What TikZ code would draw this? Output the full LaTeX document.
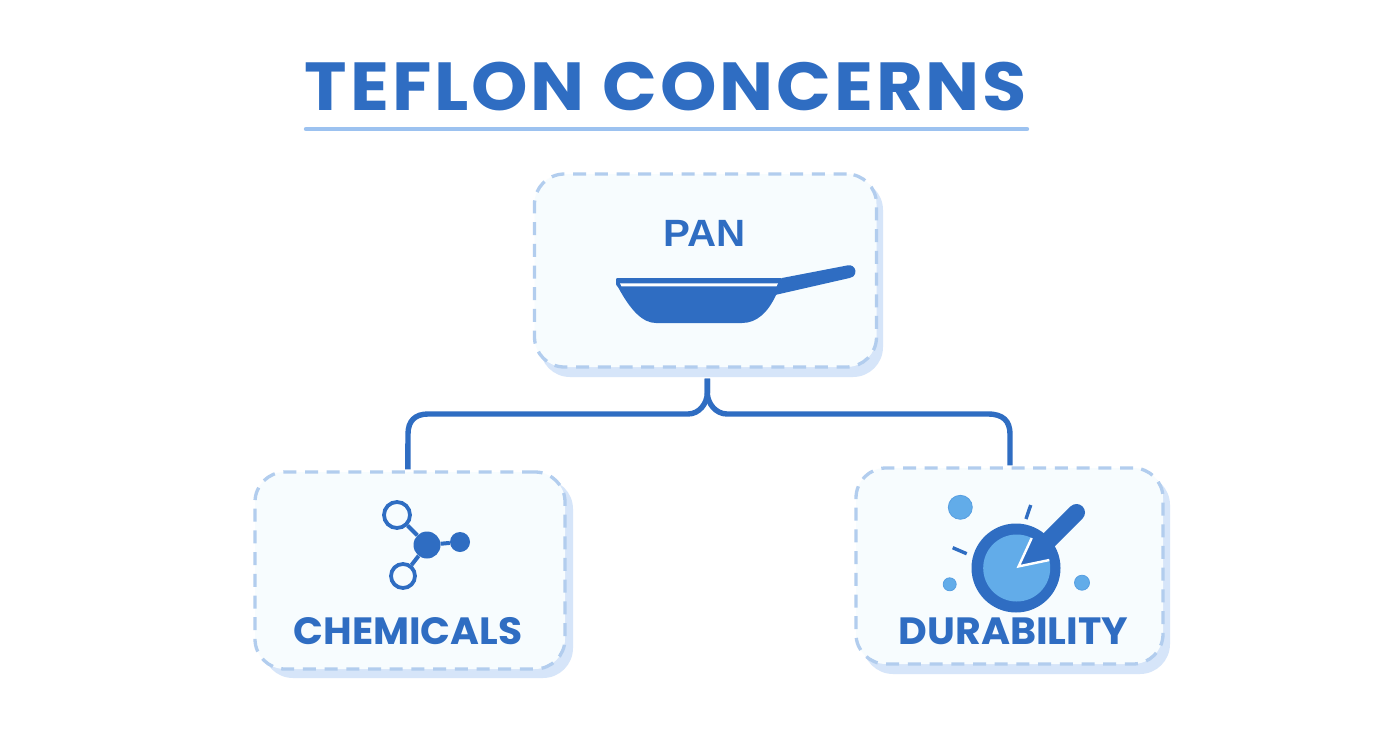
\documentclass[tikz,border=0pt]{standalone}
\usepackage{fontspec}
\setmainfont{Liberation Sans}
\newfontfamily\pop{Poppins}
\newfontfamily\popwide[LetterSpace=4]{Poppins}
\usetikzlibrary{calc}
\definecolor{mainblue}{HTML}{2F6DC2}
\definecolor{lightblue}{HTML}{62ACE9}
\definecolor{dashblue}{HTML}{B2CDEE}
\definecolor{shadowblue}{HTML}{D6E5F9}
\definecolor{cardfill}{HTML}{F7FCFE}
\definecolor{ruleblue}{HTML}{9CC2F0}
\tikzset{
  card/.style={draw=dashblue,fill=cardfill,line width=3.3pt,dash pattern=on 13pt off 8.7pt,rounded corners=30pt,inner sep=0pt,text=mainblue},
  cardshadow/.style={fill=shadowblue,rounded corners=30pt,inner sep=0pt},
  link/.style={draw=mainblue,line width=5.4pt},
  titletext/.style={text=mainblue,font=\popwide\bfseries\fontsize{68}{68}\selectfont,inner sep=0pt},
  labeltext/.style={text=mainblue,font=\pop\bfseries\fontsize{38}{38}\selectfont,inner sep=0pt},
  pantext/.style={text=mainblue,font=\bfseries\fontsize{38}{38}\selectfont,inner sep=0pt},
  openatom/.style={circle,draw=mainblue,fill=cardfill,line width=3.8pt,inner sep=0pt},
  fullatom/.style={circle,fill=mainblue,inner sep=0pt},
  bond/.style={draw=mainblue,line width=4pt},
  spark/.style={circle,fill=lightblue,draw=lightblue!80!mainblue,line width=0.8pt,inner sep=0pt},
  tick/.style={draw=mainblue,line width=3.4pt},
}
\begin{document}
\begin{tikzpicture}[x=1pt,y=-1pt]
\useasboundingbox[fill=white] (0,0) rectangle (1392,752);
% title
\node[titletext] (title) at (666,87) {\scalebox{1.057}[1]{TEFLON CONCERNS}};
\draw[ruleblue,line width=4.4pt,line cap=round] (306,129) -- (1027,129);
% shadows
\node[cardshadow,minimum width=343pt,minimum height=197pt] (panshadow) at (711.5,278.5) {};
\node[cardshadow,minimum width=310pt,minimum height=199pt] (chemshadow) at (418,578.5) {};
\node[cardshadow,minimum width=307pt,minimum height=199pt] (durashadow) at (1016.5,574.5) {};
% cards
\node[card,minimum width=342pt,minimum height=193pt] (pan) at (705.5,270.5) {};
\node[card,minimum width=310pt,minimum height=197pt] (chem) at (410,570.5) {};
\node[card,minimum width=307pt,minimum height=196pt] (dura) at (1009.5,566) {};
% connectors
\coordinate (trunk) at ($(pan.south)+(1.8,10)$);
\coordinate (chemtop) at ($(chem.north)+(-2.2,-1)$);
\coordinate (duratop) at ($(dura.north)+(0.5,-1)$);
\draw[link] (trunk) -- ++(0,14) .. controls +(0,11) and (699,414) .. (688,414) -- (428,414)
  .. controls (415,414) and (408,421) .. (408,434) -- (chemtop);
\draw[link] (trunk) -- ++(0,14) .. controls +(0,11) and (716,414) .. (727,414) -- (988,414)
  .. controls (1003,414) and (1010,421) .. (1010,434) -- (duratop);
% labels
\node[pantext] (pantitle) at (705,233) {\scalebox{1.06}[1]{PAN}};
\node[labeltext] (chemtitle) at (408,631) {\scalebox{1.032}[1]{CHEMICALS}};
\node[labeltext] (duratitle) at (1013.5,631) {\scalebox{1.04}[1]{DURABILITY}};
% pan icon
\fill[mainblue] (782,278) -- (848,265.3) arc[start angle=-100,end angle=85,radius=6.4] -- (775,295) -- cycle;
\fill[mainblue,rounded corners=1pt] (616,278) -- (782,278) -- (782,287) -- (776,295)
  .. controls (768,312) and (757,323) .. (741,323) -- (657,323)
  .. controls (643,323) and (631,311) .. (618,287) -- (616,285) -- cycle;
\fill[white] (620,283.3) -- (778,283.3) -- (776.5,286.3) -- (621.5,286.3) -- cycle;
% chemicals icon
\node[fullatom,minimum size=27pt] (hub) at (427,545) {};
\node[fullatom,minimum size=20pt] (right) at (460,542) {};
\node[openatom,minimum size=26pt] (top) at (397,515) {};
\node[openatom,minimum size=24pt] (bottom) at (403,576) {};
\draw[bond] (hub) -- (right);
\draw[bond] (hub) -- (top);
\draw[bond] (hub) -- (bottom);
% durability icon
\node[spark,minimum size=24pt] (d1) at (960.3,507.3) {};
\node[spark,minimum size=13pt] (d2) at (949.7,584.3) {};
\node[spark,minimum size=15pt] (d3) at (1082,582.7) {};
\draw[tick] (1030.7,505) -- (1026,519);
\draw[tick] (952.7,547.7) -- (966.7,553.7);
\fill[mainblue] (1016,568) circle[radius=44.5];
\fill[lightblue] (1016.7,568) circle[radius=33.5];
\draw[mainblue,line width=17pt,line cap=round] (1040,549) -- (1076.5,512.5);
\fill[mainblue] (1018.3,567) -- (1031.7,538) -- (1056,540) -- (1049.3,560) -- cycle;
\draw[white,line width=2.4pt] (1031.7,538) -- (1018.6,566.4) -- (1049.3,560);
\end{tikzpicture}
\end{document}
